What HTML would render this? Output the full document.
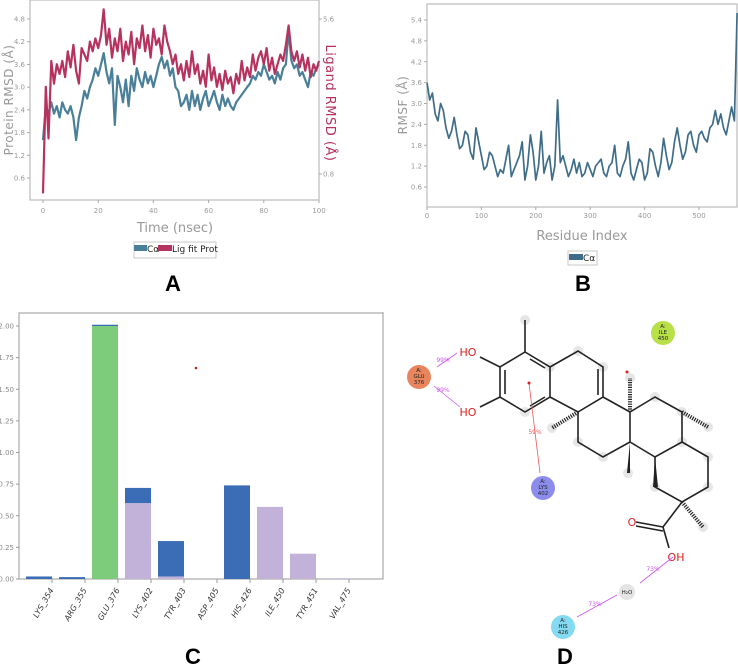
<!DOCTYPE html>
<html><head><meta charset="utf-8"><style>
html,body{margin:0;padding:0;background:#fff;}
svg{display:block;font-family:"DejaVu Sans","Liberation Sans",sans-serif;}
</style></head><body>
<svg id="fig" width="738" height="667" viewBox="0 0 738 667">
<g id="pa"></g>
<g id="pb"></g>
<g id="pc"></g>
<g id="pd">
  <line x1="383" y1="312" x2="383" y2="578" stroke="#aaa" stroke-width="1"/>
  <g fill="#e6e6e6">
    <circle cx="525" cy="320" r="5"/><circle cx="550" cy="367" r="5"/><circle cx="525" cy="412" r="5"/>
    <circle cx="578" cy="351" r="5"/><circle cx="603" cy="367" r="5"/><circle cx="552" cy="428" r="5"/>
    <circle cx="630" cy="378" r="5"/><circle cx="655" cy="397" r="5"/><circle cx="682" cy="412" r="5"/>
    <circle cx="708" cy="427" r="5"/><circle cx="578" cy="442" r="5"/><circle cx="603" cy="457" r="5"/>
    <circle cx="628" cy="473" r="5"/><circle cx="708" cy="457" r="5"/><circle cx="708" cy="487" r="5"/>
    <circle cx="655" cy="487" r="5"/><circle cx="703" cy="527" r="5"/><circle cx="682" cy="442" r="5"/>
  </g>
  <g stroke="#222" stroke-width="1.6" fill="none">
    <line x1="525" y1="320" x2="525" y2="352"/>
    <polygon points="525,352 550,367 550,397 525,412 500,397 500,367"/>
    <line x1="530" y1="359" x2="545" y2="368"/><line x1="505" y1="370" x2="505" y2="394"/><line x1="530" y1="406" x2="545" y2="397"/>
    <line x1="500" y1="367" x2="480" y2="357"/><line x1="500" y1="397" x2="480" y2="407"/>
    <polyline points="550,367 578,351 603,367 603,397 578,412 550,397"/>
    <line x1="598" y1="369" x2="598" y2="395"/>
    <polyline points="603,397 630,412 630,442 603,457 578,442 578,412"/>
    <polyline points="630,412 655,397 682,412 682,442 655,457 630,442"/>
    <polyline points="682,442 708,457 708,487 682,502 655,487 655,457"/>
    <line x1="682" y1="502" x2="663" y2="527"/>
    <line x1="663" y1="527" x2="636" y2="522"/><line x1="663" y1="531" x2="636" y2="526"/>
    <line x1="663" y1="527" x2="669" y2="548"/>
  </g>
  <g stroke="#222" stroke-width="1" stroke-dasharray="1.2,1.2">
    <line x1="578" y1="412" x2="552" y2="428" stroke-width="4"/>
    <line x1="630" y1="412" x2="630" y2="378" stroke-width="4"/>
    <line x1="682" y1="412" x2="708" y2="427" stroke-width="4"/>
    <line x1="682" y1="502" x2="703" y2="527" stroke-width="4"/>
  </g>
  <polygon points="630,442 627,473 630,473" fill="#222"/>
  <polygon points="655,457 653,487 658,487" fill="#222"/>
  <circle cx="627" cy="372" r="1.5" fill="#e02020"/>
  <text x="468" y="356" font-size="11" fill="#e02020" text-anchor="middle">HO</text>
  <text x="468" y="416" font-size="11" fill="#e02020" text-anchor="middle">HO</text>
  <text x="632" y="526" font-size="11" fill="#e02020" text-anchor="middle">O</text>
  <text x="676" y="561" font-size="11" fill="#e02020" text-anchor="middle">OH</text>
  <g stroke="#cc55ee" stroke-width="0.8">
    <line x1="457" y1="353" x2="437" y2="367"/><line x1="460" y1="407" x2="434" y2="386"/>
    <line x1="673" y1="557" x2="640" y2="583"/><line x1="577" y1="617" x2="617" y2="595"/>
  </g>
  <g font-size="6" fill="#cc55ee" text-anchor="middle">
    <text x="443" y="362">99%</text><text x="443" y="392">99%</text><text x="653" y="571">73%</text><text x="595" y="606">73%</text>
  </g>
  <line x1="529" y1="383" x2="540" y2="473" stroke="#ee5555" stroke-width="0.8"/>
  <circle cx="529" cy="383" r="1.5" fill="#e02020"/>
  <text x="535" y="434" font-size="6" fill="#ee5555" text-anchor="middle">59%</text>
  <g font-size="5.5" fill="#222" text-anchor="middle">
    <g><circle cx="419" cy="377" r="12" fill="#e8855c"/><text x="419" y="372">A:</text><text x="419" y="378">GLU</text><text x="419" y="384">376</text></g>
    <g><circle cx="663" cy="333" r="12" fill="#b8e048"/><text x="663" y="328">A:</text><text x="663" y="334">ILE</text><text x="663" y="340">450</text></g>
    <g><circle cx="543" cy="488" r="12" fill="#8c8cec"/><text x="543" y="483">A:</text><text x="543" y="489">LYS</text><text x="543" y="495">402</text></g>
    <g><circle cx="563" cy="627" r="12" fill="#84daf0"/><text x="563" y="622">A:</text><text x="563" y="628">HIS</text><text x="563" y="634">426</text></g>
    <g><circle cx="627" cy="592" r="8" fill="#e4e4e4"/><text x="627" y="594">H₂O</text></g>
  </g>
</g>
<g font-size="22" font-weight="bold" fill="#000" text-anchor="middle" font-family="Liberation Sans, sans-serif">
  <text x="173" y="291">A</text>
  <text x="583" y="291">B</text>
  <text x="193" y="664">C</text>
  <text x="565" y="664">D</text>
</g>
</svg>
<script>
// ---- Panel A data ----
const timeNs = [0,1,2,3,4,5,6,7,8,9,10,11,12,13,14,15,16,17,18,19,20,21,22,23,24,25,26,27,28,29,30,31,32,33,34,35,36,37,38,39,40,41,42,43,44,45,46,47,48,49,50,51,52,53,54,55,56,57,58,59,60,61,62,63,64,65,66,67,68,69,70,71,72,73,74,75,76,77,78,79,80,81,82,83,84,85,86,87,88,89,90,91,92,93,94,95,96,97,98,99,100];
const proteinRmsd = [1.6,2.5,2.3,2.6,2.3,2.5,2.2,2.6,2.4,2.3,2.5,2.2,1.6,2.2,2.5,2.9,2.7,3.0,3.2,3.5,3.3,3.6,3.9,3.4,3.1,3.5,2.0,3.3,3.0,2.6,3.2,2.5,3.3,2.9,3.5,3.2,3.0,3.4,3.1,3.3,3.0,3.3,3.6,3.8,3.5,3.7,3.3,3.5,3.0,2.9,2.5,2.6,2.8,2.4,2.9,2.5,2.8,2.4,2.7,2.9,2.5,2.7,2.9,2.6,2.4,2.8,2.5,2.7,2.5,2.4,2.6,2.7,2.8,2.9,3.0,3.1,3.3,3.2,3.4,3.3,3.6,3.4,3.2,3.3,3.1,3.4,3.2,3.5,3.6,4.5,3.7,3.5,3.6,3.3,3.4,3.2,3.0,3.4,3.3,3.5,3.6];
const ligandRmsd = [0.2,3.5,1.9,4.3,3.6,4.2,3.9,4.3,3.8,4.6,4.1,4.8,4.0,3.6,4.7,4.5,4.3,4.9,4.6,5.0,4.7,5.1,5.9,4.8,5.3,4.4,5.0,4.6,5.3,4.3,4.9,4.5,5.2,4.2,5.0,4.7,5.4,4.6,5.1,4.4,5.3,4.8,5.0,4.5,5.4,4.9,4.6,4.2,4.5,3.9,4.2,3.7,4.3,3.8,4.6,3.9,4.2,3.6,4.0,3.5,4.5,3.7,4.1,3.5,3.9,3.4,4.0,3.6,3.8,3.3,3.9,3.6,4.3,3.7,4.1,3.8,4.5,4.0,4.4,4.6,4.2,4.7,4.0,4.4,3.9,4.2,4.5,4.3,4.8,5.4,4.6,4.3,4.6,4.1,4.5,4.0,4.4,3.8,4.2,4.0,4.3];
const aXTicks = [0,20,40,60,80,100];
const aLeftTicks = [0.6,1.2,1.8,2.4,3.0,3.6,4.2,4.8];
const aRightTicks = [0.8,5.6];
// ---- Panel B data ----
const residueIdx = [0,5,10,15,20,25,30,35,40,45,50,55,60,65,70,75,80,85,90,95,100,105,110,115,120,125,130,135,140,145,150,155,160,165,170,175,180,185,190,195,200,205,210,215,220,225,230,235,240,245,250,255,260,265,270,275,280,285,290,295,300,305,310,315,320,325,330,335,340,345,350,355,360,365,370,375,380,385,390,395,400,405,410,415,420,425,430,435,440,445,450,455,460,465,470,475,480,485,490,495,500,505,510,515,520,525,530,535,540,545,550,555,560,565,570];
const rmsfValues = [3.6,3.1,3.3,2.7,2.5,3.0,2.8,2.3,2.0,2.2,2.6,2.1,1.7,1.8,2.2,2.1,1.6,1.4,2.3,1.9,1.5,1.1,1.2,1.6,1.5,1.2,0.9,1.1,1.0,1.4,1.8,0.9,1.1,1.3,1.5,1.9,0.8,1.2,2.1,1.6,0.8,1.2,2.2,1.0,1.3,1.5,0.8,1.2,3.1,1.3,1.5,1.2,0.9,1.1,1.4,1.0,1.3,0.9,1.0,1.3,1.1,0.9,1.2,1.3,1.4,1.0,0.9,1.2,1.3,1.8,1.0,0.9,1.2,1.4,1.9,1.0,0.8,1.1,1.4,1.3,0.8,1.0,1.7,1.6,1.2,0.9,1.3,2.0,1.5,1.1,1.3,1.9,2.3,1.8,1.4,1.6,2.1,2.2,1.8,1.6,2.1,2.2,2.0,1.9,2.3,2.4,2.8,2.4,2.7,2.3,2.1,2.5,2.9,2.5,5.6];
const bXTicks = [0,100,200,300,400,500];
const bYTicks = [0.6,1.2,1.8,2.4,3.0,3.6,4.2,4.8,5.4];
// ---- Panel C data ----
const residues = ["LYS_354","ARG_355","GLU_376","LYS_402","TYR_403","ASP_405","HIS_426","ILE_450","TYR_451","VAL_475"];
const hbondFrac = [0,0,2.0,0,0,0,0,0,0,0];
const hydrophobicFrac = [0,0,0,0.6,0.02,0,0,0.57,0.2,0.005];
const waterBridgeFrac = [0.02,0.015,0.01,0.12,0.28,0,0.74,0,0,0];
const cYTicks = [0,0.25,0.5,0.75,1.0,1.25,1.5,1.75,2.0];

const NS="http://www.w3.org/2000/svg";
function mk(parent,tag,attrs,txt){const e=document.createElementNS(NS,tag);for(const k in attrs)e.setAttribute(k,attrs[k]);if(txt!==undefined)e.textContent=txt;parent.appendChild(e);return e;}

// ---- Panel A ----
const pa=document.getElementById('pa');
const axA=t=>43+(t/100)*276, ayL=v=>19+(4.8-v)*(159/4.2), ayR=v=>19+(5.6-v)*(155/4.8);
mk(pa,'rect',{x:30,y:0,width:289,height:200,fill:'none',stroke:'#bbb','stroke-width':1.2});
let pts=timeNs.map((t,i)=>axA(t).toFixed(1)+','+ayL(proteinRmsd[i]).toFixed(1)).join(' ');
let l1=mk(pa,'polyline',{points:pts,fill:'none',stroke:'#4a7f99','stroke-width':2.2,'stroke-linejoin':'round'});


pts=timeNs.map((t,i)=>axA(t).toFixed(1)+','+Math.min(200,ayR(ligandRmsd[i])).toFixed(1)).join(' ');
let l2=mk(pa,'polyline',{points:pts,fill:'none',stroke:'#b5335e','stroke-width':2.2,'stroke-linejoin':'round'});


aXTicks.forEach(t=>{mk(pa,'line',{x1:axA(t),x2:axA(t),y1:200,y2:203,stroke:'#aaa'});
 const e=mk(pa,'text',{x:axA(t),y:213,'font-size':7,fill:'#999','text-anchor':'middle'},t);
 
 });
aLeftTicks.forEach(v=>{mk(pa,'line',{x1:27,x2:30,y1:ayL(v),y2:ayL(v),stroke:'#aaa'});
 const e=mk(pa,'text',{x:25,y:ayL(v)+2.5,'font-size':7,fill:'#999','text-anchor':'end'},v.toFixed(1));
 
 });
aRightTicks.forEach(v=>{mk(pa,'line',{x1:319,x2:322,y1:ayR(v),y2:ayR(v),stroke:'#aaa'});
 const e=mk(pa,'text',{x:323,y:ayR(v)+2.5,'font-size':7,fill:'#999'},v.toFixed(1));
 
 });
let t=mk(pa,'text',{x:175,y:232,'font-size':13,fill:'#999','text-anchor':'middle'},'Time (nsec)');


t=mk(pa,'text',{x:13,y:100,'font-size':12,fill:'#999','text-anchor':'middle',transform:'rotate(-90 13 100)','letter-spacing':'0.5'},'Protein RMSD (Å)');


t=mk(pa,'text',{x:326,y:103,'font-size':13,fill:'#b5335e','text-anchor':'middle',transform:'rotate(90 326 103)','letter-spacing':'0.5'},'Ligand RMSD (Å)');


let lg=mk(pa,'g',{});


mk(lg,'rect',{x:134,y:242,width:82,height:16,fill:'#fff',stroke:'#bbb','stroke-width':0.8});
mk(lg,'rect',{x:134,y:245,width:13,height:6,fill:'#4a7f99'});
mk(lg,'text',{x:147,y:252,'font-size':9,fill:'#222'},'Cα');
mk(lg,'rect',{x:158,y:245,width:14,height:6,fill:'#b5335e'});
mk(lg,'text',{x:172,y:252,'font-size':9,fill:'#222'},'Lig fit Prot');

// ---- Panel B ----
const pb=document.getElementById('pb');
const bx=r=>427+r*(272/500), by=v=>20+(5.4-v)*(167/4.8);
mk(pb,'rect',{x:427,y:4,width:310,height:203,fill:'none',stroke:'#bbb','stroke-width':1.2});
pts=residueIdx.map((r,i)=>bx(r).toFixed(1)+','+by(rmsfValues[i]).toFixed(1)).join(' ');
let l3=mk(pb,'polyline',{points:pts,fill:'none',stroke:'#3f6d89','stroke-width':1.7,'stroke-linejoin':'round'});


bXTicks.forEach(r=>{mk(pb,'line',{x1:bx(r),x2:bx(r),y1:207,y2:210,stroke:'#aaa'});
 const e=mk(pb,'text',{x:bx(r),y:218,'font-size':7,fill:'#999','text-anchor':'middle'},r);
 
 });
bYTicks.forEach(v=>{mk(pb,'line',{x1:424,x2:427,y1:by(v),y2:by(v),stroke:'#aaa'});
 const e=mk(pb,'text',{x:422,y:by(v)+2.5,'font-size':7,fill:'#999','text-anchor':'end'},v.toFixed(1));
 
 });
t=mk(pb,'text',{x:582,y:240,'font-size':13,fill:'#999','text-anchor':'middle'},'Residue Index');


t=mk(pb,'text',{x:407,y:105,'font-size':12,fill:'#999','text-anchor':'middle',transform:'rotate(-90 407 105)','letter-spacing':'0.5'},'RMSF (Å)');


lg=mk(pb,'g',{});


mk(lg,'rect',{x:568,y:251,width:29,height:14,fill:'#fff',stroke:'#bbb','stroke-width':0.8});
mk(lg,'rect',{x:569,y:254,width:14,height:6,fill:'#3f6d89'});
mk(lg,'text',{x:583,y:261,'font-size':9,fill:'#222'},'Cα');

// ---- Panel C ----
const pc=document.getElementById('pc');
const cy=v=>579-v*126.5, cxL=i=>26+33*i;
mk(pc,'rect',{x:19,y:313,width:364,height:266,fill:'none',stroke:'#aaa','stroke-width':1.2});
residues.forEach((name,i)=>{
  let base=0;
  const segs=[[hbondFrac[i],'#7ccc7c','hbond'],[hydrophobicFrac[i],'#c2b2da','hydrophobic'],[waterBridgeFrac[i],'#3a6db5','water-bridge']];
  segs.forEach(s=>{ if(s[0]>0){
    const r=mk(pc,'rect',{x:cxL(i),y:cy(base+s[0]),width:26,height:cy(base)-cy(base+s[0]),fill:s[1]});
    
    
    base+=s[0];}});
  const tx=cxL(i)+26;
  mk(pc,'line',{x1:tx,x2:tx,y1:579,y2:583,stroke:'#999'});
  const e=mk(pc,'text',{x:tx+2,y:590,'font-size':8,'font-style':'italic',fill:'#333','text-anchor':'end',transform:'rotate(-60 '+(tx+2)+' 590)'},name);
  
  
});
cYTicks.forEach(v=>{mk(pc,'line',{x1:16,x2:19,y1:cy(v),y2:cy(v),stroke:'#999'});
 const e=mk(pc,'text',{x:14,y:cy(v)+2.5,'font-size':7,fill:'#888','text-anchor':'end'},v.toFixed(2));
 
 });
mk(pc,'circle',{cx:196,cy:368,r:1.3,fill:'#c02020'});
</script>
</body></html>
